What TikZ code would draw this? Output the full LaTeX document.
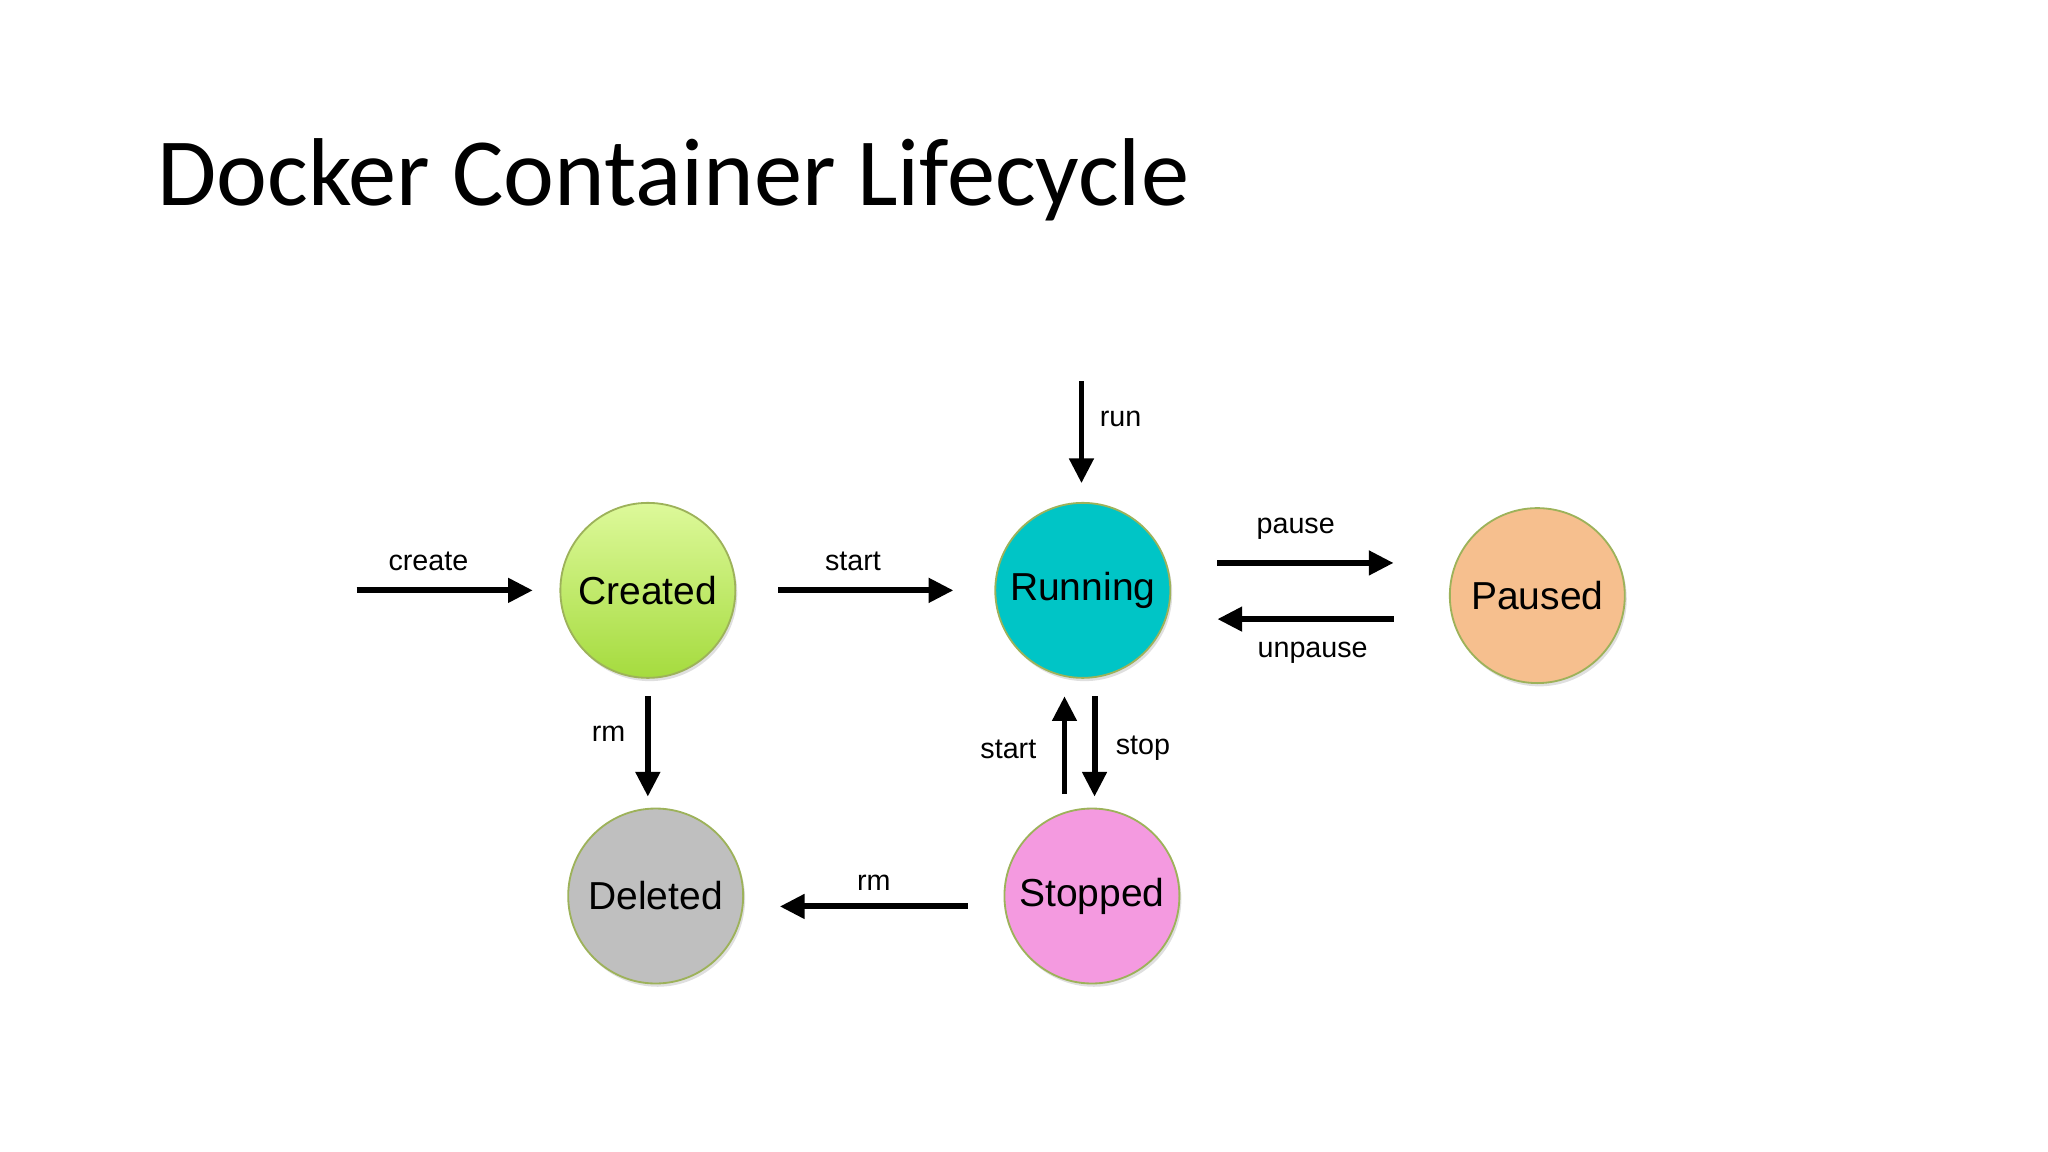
\documentclass[tikz,border=0pt]{standalone}
\usepackage{fontspec}
\setmainfont{Liberation Sans}
\newfontfamily\titlefont{Carlito}
\usetikzlibrary{arrows.meta,shadows}
\definecolor{cgreenA}{HTML}{DDF99A}
\definecolor{cgreenB}{HTML}{A5DB3E}
\definecolor{crun}{HTML}{00C5C6}
\definecolor{cpause}{HTML}{F6BF8E}
\definecolor{cdel}{HTML}{BFBFBF}
\definecolor{cstop}{HTML}{F49AE0}
\definecolor{cedge}{HTML}{9DB25A}
\begin{document}
\begin{tikzpicture}[x=0.02cm,y=-0.02cm,
  state/.style={circle,minimum size=2.68cm,inner sep=0pt,draw=cedge,line width=0.8pt,
    font=\fontsize{17}{20}\selectfont,drop shadow={shadow xshift=0.03cm,shadow yshift=-0.05cm,opacity=0.25}},
  arr/.style={line width=2.6pt,-{Triangle[length=0.38cm,width=0.36cm]}},
  lbl/.style={font=\fontsize{12.5}{15}\selectfont}]
\useasboundingbox (0,0) rectangle (1568,882);
\node[anchor=base west,inner sep=0pt,font=\titlefont\fontsize{42}{50}\selectfont] (title) at (120,157) {Docker Container Lifecycle};
\node[state,top color=cgreenA,bottom color=cgreenB] (created) at (496,452) {Created};
\node[state,fill=crun] (running) at (829,452) {Running};
\node[state,fill=cpause] (paused) at (1177,456) {Paused};
\node[state,fill=cdel] (deleted) at (502,686) {Deleted};
\node[state,fill=cstop] (stopped) at (836,686) {Stopped};
\coordinate (c0) at (273,452); \coordinate (c1) at (408,452);
\coordinate (s0) at (596,452); \coordinate (s1) at (730,452);
\coordinate (r0) at (828,292); \coordinate (r1) at (828,370);
\coordinate (p0) at (932,431); \coordinate (p1) at (1067,431);
\coordinate (u0) at (1067,474); \coordinate (u1) at (932,474);
\coordinate (d0) at (496,533); \coordinate (d1) at (496,610);
\coordinate (su0) at (815,608); \coordinate (su1) at (815,533);
\coordinate (st0) at (838,533); \coordinate (st1) at (838,610);
\coordinate (m0) at (741,694); \coordinate (m1) at (597,694);
\draw[arr] (c0) -- (c1);
\draw[arr] (s0) -- (s1);
\draw[arr] (r0) -- (r1);
\draw[arr] (p0) -- (p1);
\draw[arr] (u0) -- (u1);
\draw[arr] (d0) -- (d1);
\draw[arr] (su0) -- (su1);
\draw[arr] (st0) -- (st1);
\draw[arr] (m0) -- (m1);
\node[lbl] (lc) at (328,430) {create};
\node[lbl] (ls) at (653,430) {start};
\node[lbl] (lr) at (858,321) {run};
\node[lbl] (lp) at (992,405) {pause};
\node[lbl] (lu) at (1005,500) {unpause};
\node[lbl] (ld) at (466,562) {rm};
\node[lbl] (lsu) at (772,574) {start};
\node[lbl] (lst) at (875,573) {stop};
\node[lbl] (lm) at (669,676) {rm};
\end{tikzpicture}
\end{document}
